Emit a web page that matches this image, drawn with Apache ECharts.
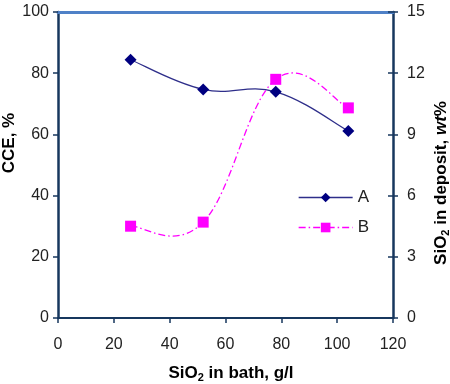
<!DOCTYPE html>
<html>
<head>
<meta charset="utf-8">
<script src="https://cdn.jsdelivr.net/npm/echarts@6/dist/echarts.min.js"></script>
<style>html,body{margin:0;padding:0;background:#fff}#c{width:450px;height:384px}</style>
</head>
<body>
<div id="c"></div>
<script>
var xValues = [26, 52, 78, 104];
var seriesA = [84.4, 74.7, 73.9, 61.1];
var seriesB = [4.5, 4.7, 11.7, 10.3];
var xTicks = {min: 0, max: 120, interval: 20};
var leftTicks = {min: 0, max: 100, interval: 20};
var rightTicks = {min: 0, max: 15, interval: 3};

var FONT = '"Liberation Sans", Arial, sans-serif';
var AXC = '#17375e';
var labelStyle = {color: '#222', fontSize: 16, fontFamily: FONT};
var colA = '#000080', lineA = '#2e2e8a', colB = '#ff00ff';
var dashB = [7, 3, 1.5, 3];

var chart = echarts.init(document.getElementById('c'), null, {renderer: 'canvas'});
function pairs(ys){ return xValues.map(function(x,i){ return [x, ys[i]]; }); }

// Excel-like smoothed curve drawn through the data via the axes' scales
function smoothRenderer(ys, stroke, dash) {
  return function (params, api) {
    if (params.dataIndex !== 0) return;
    var pts = pairs(ys).map(function (d) { return api.coord(d); });
    var k = 0.2, n = pts.length;
    var d = 'M' + pts[0][0] + ' ' + pts[0][1];
    for (var i = 0; i < n - 1; i++) {
      var p0 = pts[Math.max(i - 1, 0)], p1 = pts[i], p2 = pts[i + 1], p3 = pts[Math.min(i + 2, n - 1)];
      var c1x = p1[0] + (p2[0] - p0[0]) * k, c1y = p1[1] + (p2[1] - p0[1]) * k;
      var c2x = p2[0] - (p3[0] - p1[0]) * k, c2y = p2[1] - (p3[1] - p1[1]) * k;
      d += ' C' + c1x + ' ' + c1y + ' ' + c2x + ' ' + c2y + ' ' + p2[0] + ' ' + p2[1];
    }
    return {
      type: 'path', silent: true,
      shape: {pathData: d},
      style: {fill: null, stroke: stroke, lineWidth: 1.3, lineDash: dash || null}
    };
  };
}

chart.setOption({
  animation: false,
  backgroundColor: '#fff',
  grid: {left: 58, right: 57, top: 12, bottom: 66},
  legend: {
    orient: 'vertical', left: 298, top: 189, padding: 0, itemWidth: 54, itemHeight: 12, itemGap: 13,
    textStyle: {color: '#222', fontSize: 17, fontFamily: FONT},
    data: [
      {name: 'A', lineStyle: {opacity: 1, color: lineA, width: 1.3}},
      {name: 'B', lineStyle: {opacity: 1, color: colB, width: 1.3, type: dashB}}
    ]
  },
  xAxis: [{
    type: 'value', min: xTicks.min, max: xTicks.max, interval: xTicks.interval,
    axisLine: {show: true, onZero: false, lineStyle: {color: AXC, width: 2}},
    axisTick: {show: true, inside: false, length: 5, lineStyle: {color: AXC, width: 1.5}},
    axisLabel: Object.assign({margin: 19}, labelStyle),
    splitLine: {show: false}
  }, {
    type: 'value', position: 'top', min: xTicks.min, max: xTicks.max,
    axisLine: {show: true, onZero: false, lineStyle: {color: '#4f81c7', width: 3}},
    axisTick: {show: false}, axisLabel: {show: false}, splitLine: {show: false}
  }],
  yAxis: [{
    type: 'value', position: 'left', min: leftTicks.min, max: leftTicks.max, interval: leftTicks.interval,
    axisLine: {show: true, onZero: false, lineStyle: {color: AXC, width: 2.5}},
    axisTick: {show: true, inside: false, length: 5, lineStyle: {color: AXC, width: 1.5}},
    axisLabel: Object.assign({margin: 9}, labelStyle),
    splitLine: {show: false}
  }, {
    type: 'value', position: 'right', min: rightTicks.min, max: rightTicks.max, interval: rightTicks.interval,
    axisLine: {show: true, onZero: false, lineStyle: {color: AXC, width: 2.5}},
    axisTick: {show: true, inside: false, length: 5, lineStyle: {color: AXC, width: 1.5}},
    axisLabel: Object.assign({margin: 14}, labelStyle),
    splitLine: {show: false}
  }, {
    type: 'value', position: 'right', min: rightTicks.min, max: rightTicks.max, interval: rightTicks.interval,
    axisLine: {show: false, onZero: false},
    axisTick: {show: true, inside: true, length: 5, lineStyle: {color: AXC, width: 1.5}},
    axisLabel: {show: false}, splitLine: {show: false}
  }],
  graphic: [{
    type: 'text', x: 9, y: 143, rotation: Math.PI / 2,
    style: {text: 'CCE, %', font: 'bold 17px ' + FONT, fill: '#000', align: 'center', verticalAlign: 'middle'}
  }, {
    type: 'text', x: 441, y: 183, rotation: Math.PI / 2,
    style: {
      text: 'SiO{sub|2} in deposit, {it|wt}%',
      fontFamily: FONT, fontWeight: 'bold', fontSize: 17, fill: '#000', lineHeight: 20,
      align: 'center', verticalAlign: 'middle',
      rich: {
        sub: {fontSize: 11, fontWeight: 'bold', fontFamily: FONT, verticalAlign: 'bottom', lineHeight: 11, fill: '#000'},
        it: {fontSize: 17, fontWeight: 'bold', fontStyle: 'italic', fontFamily: FONT, lineHeight: 20, fill: '#000'}
      }
    }
  }, {
    type: 'text', x: 231, y: 373,
    style: {
      text: 'SiO{sub|2} in bath, g/l',
      fontFamily: FONT, fontWeight: 'bold', fontSize: 17, fill: '#000', lineHeight: 20,
      align: 'center', verticalAlign: 'middle',
      rich: {
        sub: {fontSize: 11, fontWeight: 'bold', fontFamily: FONT, verticalAlign: 'bottom', lineHeight: 11, fill: '#000'}
      }
    }
  }],
  series: [{
    name: 'A-curve', type: 'custom', xAxisIndex: 0, yAxisIndex: 0, data: pairs(seriesA),
    renderItem: smoothRenderer(seriesA, lineA, null), z: 1
  }, {
    name: 'B-curve', type: 'custom', xAxisIndex: 0, yAxisIndex: 1, data: pairs(seriesB),
    renderItem: smoothRenderer(seriesB, colB, dashB), z: 1
  }, {
    name: 'A', type: 'line', xAxisIndex: 0, yAxisIndex: 0, data: pairs(seriesA),
    symbol: 'diamond', symbolSize: 12, z: 3,
    lineStyle: {color: lineA, width: 1.3, opacity: 0},
    itemStyle: {color: colA}
  }, {
    name: 'B', type: 'line', xAxisIndex: 0, yAxisIndex: 1, data: pairs(seriesB),
    symbol: 'rect', symbolSize: 11, z: 3,
    lineStyle: {color: colB, width: 1.3, type: dashB, opacity: 0},
    itemStyle: {color: colB}
  }]
});
</script>
</body>
</html>
